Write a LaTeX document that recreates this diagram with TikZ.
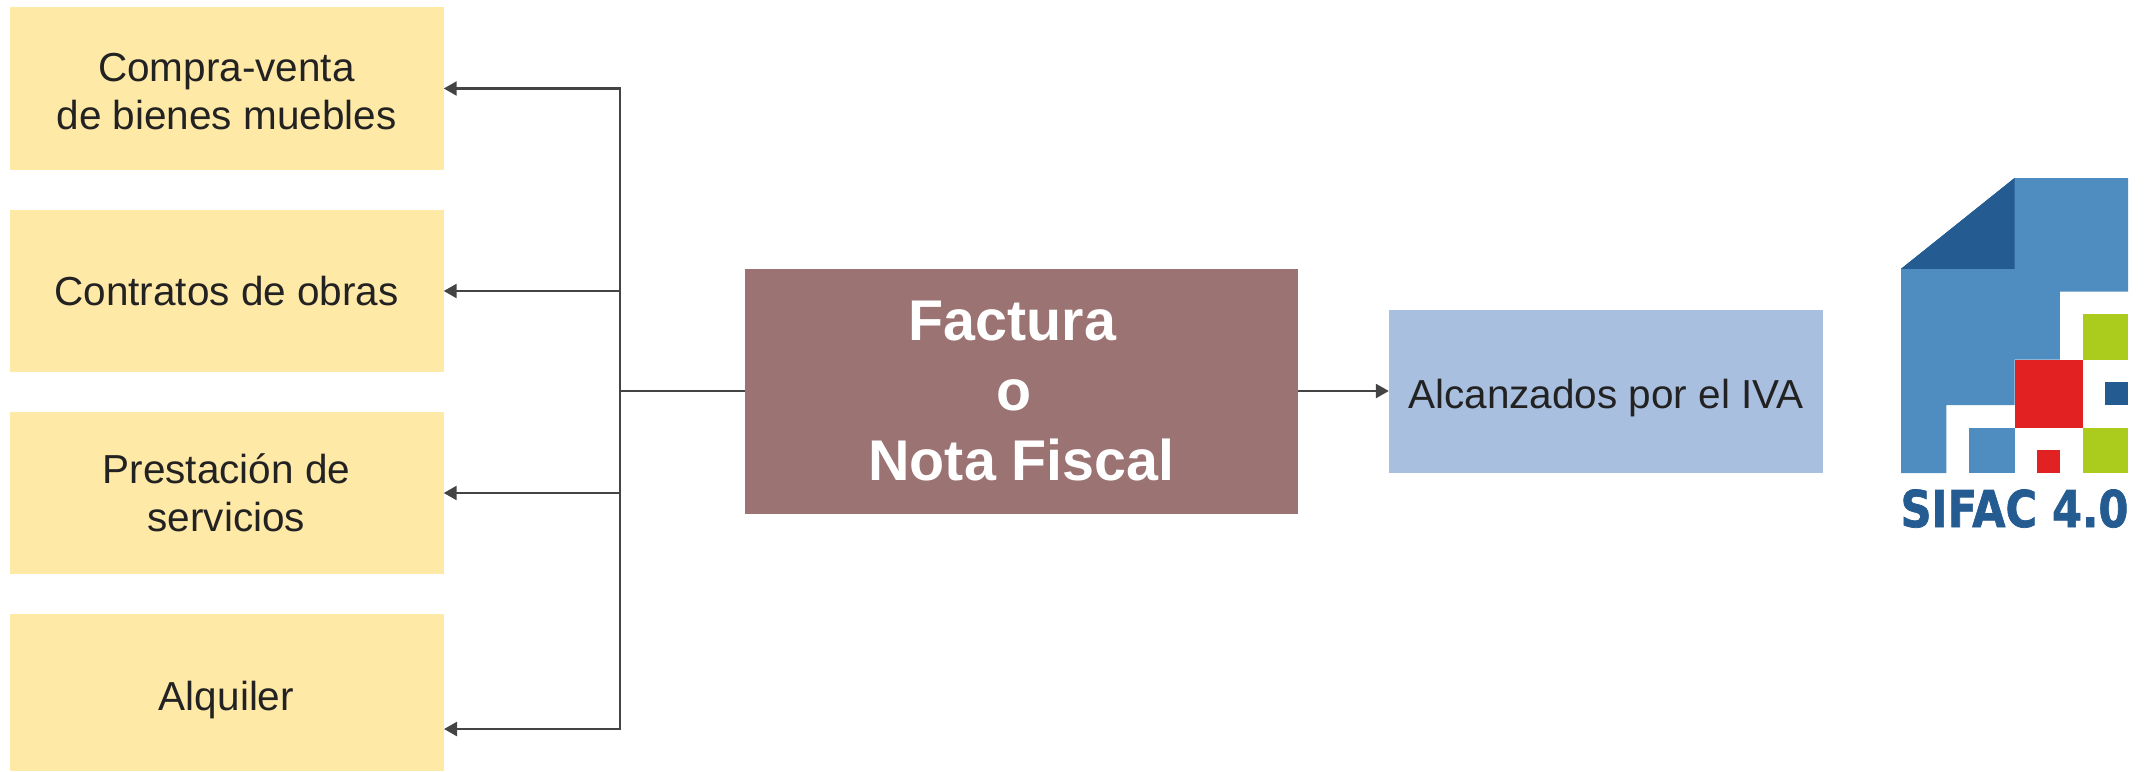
\documentclass[tikz,border=0pt]{standalone}
\usepackage{fontspec}
\setmainfont{Liberation Sans}
\newfontfamily\logofont[BoldFeatures={FakeBold=1.5}]{DejaVu Sans}
\usetikzlibrary{arrows.meta}
\definecolor{boxyellow}{HTML}{FFE9A6}
\definecolor{boxbrown}{HTML}{9C7373}
\definecolor{boxblue}{HTML}{A9BFDF}
\definecolor{linegray}{HTML}{444444}
\definecolor{textdark}{HTML}{222222}
\definecolor{logoblue}{HTML}{4F8CC0}
\definecolor{logodark}{HTML}{245B90}
\definecolor{logored}{HTML}{E22222}
\definecolor{logogreen}{HTML}{ABCC1C}
\tikzset{
  yellowbox/.style={fill=boxyellow,draw=none,inner sep=0pt,minimum width=434pt,align=center,text=textdark,font=\fontsize{40.5}{48}\selectfont},
  mainbox/.style={fill=boxbrown,draw=none,inner sep=0pt,minimum width=553pt,minimum height=245pt,align=center,text=white,font=\fontsize{57.4}{70}\selectfont\bfseries},
  bluebox/.style={fill=boxblue,draw=none,inner sep=0pt,minimum width=434pt,minimum height=163pt,align=center,text=textdark,font=\fontsize{40.5}{48}\selectfont},
  conn/.style={draw=linegray,line width=2.5pt},
  arr/.style={conn,-{Triangle[length=13pt,width=14pt]}},
}
\begin{document}
\begin{tikzpicture}[x=1pt,y=-1pt]
\useasboundingbox (0,0) rectangle (2146,771);
% boxes
\node[yellowbox,minimum height=163pt] (c1) at (226.5,88.5) {\rule{0pt}{35pt}Compra-venta\\de bienes muebles};
\node[yellowbox,minimum height=162pt] (c2) at (226.5,291) {Contratos de obras};
\node[yellowbox,minimum height=162pt] (c3) at (226.5,493) {Prestación de\\servicios};
\node[yellowbox,minimum height=157pt,text height=35pt,text depth=0pt] (c4) at (226.5,692.5) {Alquiler};
\node[mainbox] (fact) at (1021.5,391) {\mbox{Factura\kern18pt}\\\mbox{o\kern14pt}\\Nota Fiscal};
\node[bluebox,text height=35pt,text depth=0pt] (alc) at (1606,391) {Alcanzados por el IVA};
% connectors
\coordinate (trunk) at (620,391);
\coordinate (port4) at (444,729);
\draw[conn] (fact.west) -- (trunk);
\draw[arr] (trunk) |- (c1.east);
\draw[arr] (trunk) |- (c2.east);
\draw[arr] (trunk) |- (c3.east);
\draw[arr] (trunk) |- (port4);
\draw[arr] (fact.east) -- (alc.west);
% logo
\begin{scope}[shift={(1901,178)},x=22.7pt,y=-22.7pt]
\fill[logoblue] (0,4) -- (5,0) -- (10,0) -- (10,5) -- (7,5) -- (7,8) -- (5,8) -- (5,10) -- (2,10) -- (2,13) -- (0,13) -- cycle;
\fill[logodark] (0,4) -- (5,0) -- (5,4) -- cycle;
\fill[logogreen] (8,6) rectangle (10,8);
\fill[logored] (5,8) rectangle (8,11);
\fill[logodark] (9,9) rectangle (10,10);
\fill[logogreen] (8,11) rectangle (10,13);
\fill[logoblue] (3,11) rectangle (5,13);
\fill[logored] (6,12) rectangle (7,13);
\end{scope}
\node[inner sep=0pt,anchor=base,text=logodark,xscale=0.85] (sifac) at (2014.5,527) {\fontsize{50.7}{55}\logofont\bfseries SIFAC 4.0};
\end{tikzpicture}
\end{document}
